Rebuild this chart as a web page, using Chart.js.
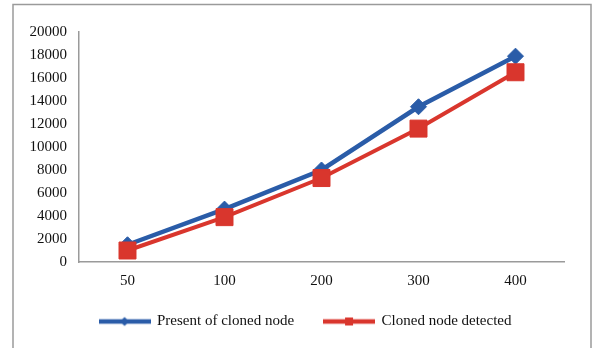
<!DOCTYPE html>
<html>
<head>
<meta charset="utf-8">
<script src="https://cdn.jsdelivr.net/npm/chart.js@4/dist/chart.umd.min.js"></script>
<style>
  html, body { margin: 0; padding: 0; background: #fff; }
  #wrap { position: relative; width: 596px; height: 348px; }
</style>
</head>
<body>
<div id="wrap"><canvas id="c" width="596" height="348"></canvas></div>
<script>
// Number of nodes in the network
const categories = ['50', '100', '200', '300', '400'];
// Cloned nodes present vs. cloned nodes detected
const presentOfCloned = [1500, 4600, 8000, 13500, 17900];
const clonedDetected = [1000, 3900, 7300, 11600, 16500];
const seriesNames = ['Present of cloned node', 'Cloned node detected'];
const yTicks = [0, 2000, 4000, 6000, 8000, 10000, 12000, 14000, 16000, 18000, 20000];

const BLUE = '#2A5CA8';
const RED = '#D9362D';
const FONT = "'Liberation Serif', 'Times New Roman', serif";

// Legend swatch: a short line with the series marker in the middle
function legendSwatch(color, shape) {
  const c = document.createElement('canvas');
  c.width = 52; c.height = 12;
  const g = c.getContext('2d');
  g.strokeStyle = color; g.lineWidth = 4.5;
  g.beginPath(); g.moveTo(0, 6); g.lineTo(52, 6); g.stroke();
  g.fillStyle = color;
  if (shape === 'diamond') {
    g.beginPath(); g.moveTo(26, 1.5); g.lineTo(30.5, 6); g.lineTo(26, 10.5); g.lineTo(21.5, 6); g.closePath(); g.fill();
  } else {
    g.fillRect(22, 2, 8, 8);
  }
  return c;
}
const swatches = [legendSwatch(BLUE, 'diamond'), legendSwatch(RED, 'square')];

// Thin grey frame around the whole figure
const framePlugin = {
  id: 'frame',
  beforeDraw(chart) {
    const ctx = chart.ctx;
    ctx.save();
    ctx.strokeStyle = '#9a9a9a';
    ctx.lineWidth = 1.5;
    ctx.strokeRect(13, 4.5, 578, 360);
    ctx.restore();
  }
};

// Centre the legend row under the whole frame and tuck it closer to the axis labels
const legendShift = {
  id: 'legendShift',
  afterLayout(chart) {
    const lg = chart.legend;
    if (lg) { lg.left += 17; lg.right += 17; lg.top -= 8; lg.bottom -= 8; }
  }
};

new Chart(document.getElementById('c'), {
  type: 'line',
  data: {
    labels: categories,
    datasets: [
      {
        label: seriesNames[0],
        data: presentOfCloned,
        borderColor: BLUE,
        backgroundColor: BLUE,
        borderWidth: 4.5,
        pointStyle: 'rectRot',
        pointRadius: 8,
        pointHoverRadius: 8,
        pointBorderWidth: 1,
        pointBackgroundColor: BLUE,
        pointBorderColor: BLUE,
        tension: 0,
        order: 1
      },
      {
        label: seriesNames[1],
        data: clonedDetected,
        borderColor: RED,
        backgroundColor: RED,
        borderWidth: 4,
        pointStyle: 'rect',
        pointRadius: 12,
        pointHoverRadius: 12,
        pointBorderWidth: 1,
        pointBackgroundColor: RED,
        pointBorderColor: RED,
        tension: 0,
        order: 0
      }
    ]
  },
  options: {
    responsive: false,
    animation: false,
    devicePixelRatio: 1,
    layout: { padding: { left: 13, right: 32, top: 32, bottom: 1 } },
    plugins: {
      tooltip: { enabled: false },
      legend: {
        position: 'bottom',
        labels: {
          usePointStyle: true,
          pointStyleWidth: 50,
          padding: 30,
          color: '#111',
          font: { family: FONT, size: 15 },
          generateLabels(chart) {
            const items = Chart.defaults.plugins.legend.labels.generateLabels(chart);
            items.forEach(it => { it.pointStyle = swatches[it.datasetIndex]; it.rotation = 0; });
            return items;
          },
          sort: (a, b) => a.datasetIndex - b.datasetIndex
        }
      }
    },
    scales: {
      x: {
        type: 'category',
        offset: true,
        grid: { display: false, drawTicks: false },
        border: { display: true, color: '#9a9a9a', width: 1.5 },
        ticks: { color: '#111', font: { family: FONT, size: 15 }, padding: 10 },
        afterFit(scale) { scale.height = 30; }
      },
      y: {
        min: 0,
        max: 20000,
        afterBuildTicks(scale) { scale.ticks = yTicks.map(v => ({ value: v })); },
        grid: { display: false, drawTicks: false },
        border: { display: true, color: '#9a9a9a', width: 1.5 },
        ticks: {
          color: '#111',
          font: { family: FONT, size: 15 },
          padding: 12,
          callback: (v) => String(v)
        },
        afterFit(scale) { scale.width = 66; }
      }
    }
  },
  plugins: [framePlugin, legendShift]
});
</script>
</body>
</html>
